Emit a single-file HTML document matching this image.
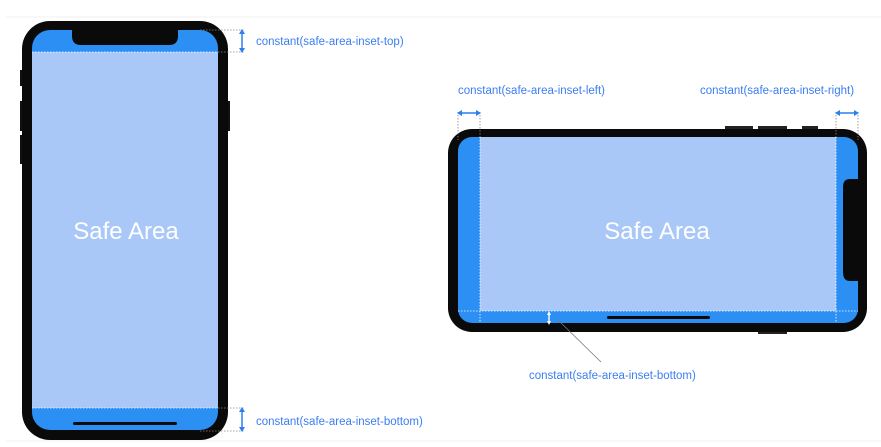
<!DOCTYPE html>
<html><head><meta charset="utf-8"><style>
html,body{margin:0;padding:0;background:#fff;width:881px;height:447px;overflow:hidden}
svg text{font-family:"Liberation Sans",sans-serif}
</style></head><body>
<svg width="881" height="447" viewBox="0 0 881 447" xmlns="http://www.w3.org/2000/svg">
<line x1="6" y1="17" x2="881" y2="17" stroke="#f2f2f2" stroke-width="1"/>
<line x1="6" y1="441" x2="881" y2="441" stroke="#f2f2f2" stroke-width="1"/>
<!-- Portrait phone -->
<rect x="20" y="70" width="4" height="16" fill="#111"/>
<rect x="20" y="101" width="4" height="30" fill="#111"/>
<rect x="20" y="135" width="4" height="29" fill="#111"/>
<rect x="226" y="101" width="4" height="30" fill="#111"/>
<rect x="22" y="21" width="206" height="419" rx="28" fill="#0a0a0a"/>
<rect x="32" y="30" width="186" height="400" rx="18" fill="#2b8ff3"/>
<rect x="32" y="52" width="186" height="356" fill="#a9c7f7"/>
<line x1="32" y1="52" x2="218" y2="52" stroke="#fff" stroke-width="0.8" stroke-dasharray="1.5,1.5"/>
<line x1="32" y1="408" x2="218" y2="408" stroke="#fff" stroke-width="0.8" stroke-dasharray="1.5,1.5"/>
<path d="M72 30 H178 V36 Q178 45 169 45 H81 Q72 45 72 36 Z" fill="#0a0a0a"/>
<rect x="73" y="422" width="104" height="3" rx="1.5" fill="#0a0a0a"/>
<text x="126" y="239" font-size="24" fill="#fff" text-anchor="middle">Safe Area</text>
<g stroke="#888" stroke-width="0.8" stroke-dasharray="1.5,1.5">
<line x1="200" y1="30" x2="244" y2="30"/><line x1="218" y1="52" x2="244" y2="52"/>
<line x1="218" y1="408" x2="244" y2="408"/><line x1="200" y1="431" x2="244" y2="431"/>
</g>
<g stroke="#2b7ff0" stroke-width="1.5" fill="#2b7ff0">
<line x1="242" y1="32" x2="242" y2="50"/><path d="M239 34 L242 29 L245 34Z" stroke="none"/><path d="M239 48 L242 53 L245 48Z" stroke="none"/>
<line x1="242" y1="410" x2="242" y2="429"/><path d="M239 412 L242 407 L245 412Z" stroke="none"/><path d="M239 427 L242 432 L245 427Z" stroke="none"/>
</g>
<text x="256" y="45" font-size="11.5" fill="#3b7ef0">constant(safe-area-inset-top)</text>
<text x="256" y="425" font-size="11.5" fill="#3b7ef0">constant(safe-area-inset-bottom)</text>
<!-- Landscape phone -->
<rect x="725" y="126" width="28" height="4" fill="#222"/>
<rect x="758" y="126" width="29" height="4" fill="#222"/>
<rect x="802" y="126" width="16" height="4" fill="#222"/>
<rect x="758" y="330" width="29" height="4" fill="#222"/>
<rect x="448" y="129" width="419" height="203" rx="24" fill="#0a0a0a"/>
<rect x="458" y="137" width="400" height="186" rx="14" fill="#2b8ff3"/>
<rect x="480" y="137" width="356" height="174" fill="#a9c7f7"/>
<g stroke="#fff" stroke-width="0.8" stroke-dasharray="1.5,1.5">
<line x1="480" y1="137" x2="480" y2="323"/><line x1="836" y1="137" x2="836" y2="323"/>
<line x1="458" y1="311" x2="858" y2="311"/>
</g>
<path d="M858 179 H850 Q843 179 843 187 V272 Q843 281 850 281 H858 Z" fill="#0a0a0a"/>
<rect x="607" y="316" width="103" height="3" rx="1.5" fill="#0a0a0a"/>
<text x="657" y="239" font-size="24" fill="#fff" text-anchor="middle">Safe Area</text>
<g stroke="#888" stroke-width="0.8" stroke-dasharray="1.5,1.5">
<line x1="458" y1="112" x2="458" y2="140"/><line x1="480" y1="112" x2="480" y2="137"/>
<line x1="836" y1="112" x2="836" y2="137"/><line x1="858" y1="112" x2="858" y2="140"/>
</g>
<g stroke="#2b7ff0" stroke-width="1.5" fill="#2b7ff0">
<line x1="460" y1="113" x2="478" y2="113"/><path d="M462 110 L457 113 L462 116Z" stroke="none"/><path d="M476 110 L481 113 L476 116Z" stroke="none"/>
<line x1="838" y1="113" x2="856" y2="113"/><path d="M840 110 L835 113 L840 116Z" stroke="none"/><path d="M854 110 L859 113 L854 116Z" stroke="none"/>
</g>
<g stroke="#fff" stroke-width="1.4" fill="#fff">
<line x1="549" y1="314" x2="549" y2="322"/><path d="M547 315 L549 311 L551 315Z" stroke="none"/><path d="M547 321 L549 325 L551 321Z" stroke="none"/>
</g>
<line x1="557" y1="319" x2="601" y2="362" stroke="#777" stroke-width="0.8"/>
<text x="458" y="94" font-size="11.5" fill="#3b7ef0">constant(safe-area-inset-left)</text>
<text x="700" y="94" font-size="11.5" fill="#3b7ef0">constant(safe-area-inset-right)</text>
<text x="529" y="379" font-size="11.5" fill="#3b7ef0">constant(safe-area-inset-bottom)</text>
</svg>
</body></html>
